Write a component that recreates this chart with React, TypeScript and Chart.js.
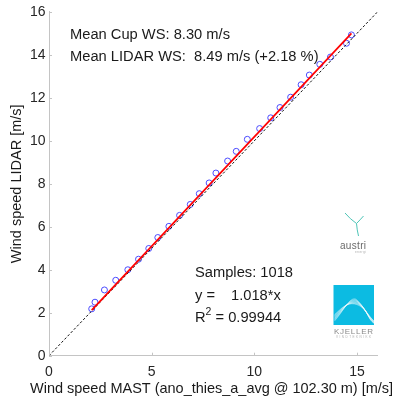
import React, { useEffect, useRef } from 'react';
import { Chart, registerables } from 'chart.js';

Chart.register(...registerables);

const FONT = "'Liberation Sans', Arial, Helvetica, sans-serif";

// Binned averages: mast (cup) wind speed vs LIDAR wind speed [m/s]
const mastWS = [2.08, 2.24, 2.70, 3.25, 3.84, 4.36, 4.86, 5.30, 5.84, 6.36, 6.88, 7.32, 7.80, 8.13, 8.70, 9.12, 9.66, 10.26, 10.80, 11.25, 11.77, 12.28, 12.68, 13.19, 13.71, 14.49, 14.73];
const lidarWS = [2.18, 2.49, 3.06, 3.51, 4.00, 4.49, 4.99, 5.50, 6.02, 6.53, 7.04, 7.54, 8.04, 8.50, 9.06, 9.51, 10.07, 10.57, 11.07, 11.55, 12.03, 12.61, 13.06, 13.56, 13.90, 14.54, 14.93];

// Regression line y = 1.018*x (end points)
const fitX = [2.08, 14.73];
const fitY = [2.12, 15.0];

// 1:1 reference line
const refX = [0, 16];
const refY = [0, 16];

const xTicks = [0, 5, 10, 15];
const yTicks = [0, 2, 4, 6, 8, 10, 12, 14, 16];

const xTitle = 'Wind speed MAST (ano_thies_a_avg @ 102.30 m) [m/s]';
const yTitle = 'Wind speed LIDAR [m/s]';

const meanLines = ['Mean Cup WS: 8.30 m/s', 'Mean LIDAR WS:  8.49 m/s (+2.18 %)'];
const samplesText = 'Samples: 1018';
const fitTextLeft = 'y =';
const fitTextRight = '1.018*x';
const r2Value = '0.99944';

const spacedText = (ctx: CanvasRenderingContext2D, text: string, x0: number, x1: number, y: number) => {
  const chars = text.split('');
  const widths = chars.map((c) => ctx.measureText(c).width);
  const total = widths.reduce((a, b) => a + b, 0);
  const gap = chars.length > 1 ? (x1 - x0 - total) / (chars.length - 1) : 0;
  let x = x0;
  ctx.textAlign = 'left';
  chars.forEach((c, i) => {
    ctx.fillText(c, x, y);
    x += widths[i] + gap;
  });
};

const annotationPlugin = {
  id: 'annotations',
  afterDraw(chart: any) {
    const ctx: CanvasRenderingContext2D = chart.ctx;
    const xs = chart.scales.x;
    const ys = chart.scales.y;
    const area = chart.chartArea;
    ctx.save();

    // inward tick marks
    ctx.strokeStyle = '#c4c4c4';
    ctx.lineWidth = 1;
    xTicks.forEach((v) => {
      const px = Math.round(xs.getPixelForValue(v)) + 0.5;
      ctx.beginPath();
      ctx.moveTo(px, area.bottom);
      ctx.lineTo(px, area.bottom - 3);
      ctx.stroke();
    });
    yTicks.forEach((v) => {
      const py = Math.round(ys.getPixelForValue(v)) + 0.5;
      ctx.beginPath();
      ctx.moveTo(area.left, py);
      ctx.lineTo(area.left + 3, py);
      ctx.stroke();
    });

    // x axis title (spans wider than the plot area)
    ctx.fillStyle = '#1a1a1a';
    ctx.font = `14.5px ${FONT}`;
    ctx.textBaseline = 'alphabetic';
    spacedText(ctx, xTitle, 30, 393, 392.7);

    // statistics text
    const F = `14.7px ${FONT}`;
    ctx.fillStyle = '#1a1a1a';
    ctx.font = F;
    ctx.textAlign = 'left';
    ctx.textBaseline = 'alphabetic';
    ctx.fillText(meanLines[0], 70, 39);
    ctx.fillText(meanLines[1], 70, 61);

    ctx.fillText(samplesText, 195, 277);
    ctx.fillText(fitTextLeft, 195, 299.5);
    ctx.fillText(fitTextRight, 231, 299.5);
    ctx.fillText('R', 195, 321.5);
    const rw = ctx.measureText('R').width;
    ctx.font = `10.5px ${FONT}`;
    ctx.fillText('2', 195 + rw, 315);
    const sw = ctx.measureText('2').width;
    ctx.font = F;
    ctx.fillText(' = ' + r2Value, 195 + rw + sw, 321.5);

    // austri logo
    ctx.strokeStyle = '#4cc4b6';
    ctx.lineWidth = 1;
    const cx = 356.5, cy = 223.5;
    ctx.beginPath();
    ctx.moveTo(cx, cy);
    ctx.quadraticCurveTo(350, 219, 345, 213);
    ctx.moveTo(cx, cy);
    ctx.quadraticCurveTo(360, 220, 363.5, 216);
    ctx.moveTo(cx, cy);
    ctx.quadraticCurveTo(357, 230, 358.5, 236);
    ctx.stroke();
    ctx.fillStyle = '#6a6a6a';
    ctx.font = `10px ${FONT}`;
    spacedText(ctx, 'austri', 340, 366, 249);
    ctx.fillStyle = '#aaaaaa';
    ctx.font = `3px ${FONT}`;
    spacedText(ctx, 'energi', 355, 366, 253);

    // KJELLER logo
    const sx = 333.5, sy = 285, sw2 = 40.5, sh = 40;
    ctx.fillStyle = '#0cbbe2';
    ctx.fillRect(sx, sy, sw2, sh);
    ctx.save();
    ctx.beginPath();
    ctx.rect(sx, sy, sw2, sh);
    ctx.clip();
    ctx.strokeStyle = 'rgba(255,255,255,0.75)';
    ctx.lineWidth = 0.5;
    for (let i = 0; i < 9; i++) {
      ctx.beginPath();
      ctx.moveTo(sx + 1, sy + 36 - i * 0.8);
      ctx.bezierCurveTo(sx + 10, sy + 26 - i * 0.6, sx + 16, sy + 12 + i * 0.4, sx + 22 + i * 0.6, sy + 14 + i * 0.9);
      ctx.bezierCurveTo(sx + 28 + i, sy + 18 + i * 1.2, sx + 34, sy + 30 + i * 0.5, sx + sw2, sy + 36 + i * 0.3);
      ctx.stroke();
    }
    ctx.restore();
    ctx.fillStyle = '#8a8a8a';
    ctx.font = `8px ${FONT}`;
    spacedText(ctx, 'KJELLER', 334, 373, 333.5);
    ctx.fillStyle = '#b0b0b0';
    ctx.font = `3px ${FONT}`;
    spacedText(ctx, 'VINDTEKNIKK', 336, 371, 338);

    ctx.restore();
  },
};

export default function App() {
  const canvasRef = useRef<HTMLCanvasElement | null>(null);

  useEffect(() => {
    const canvas = canvasRef.current;
    if (!canvas) return;
    const chart = new Chart(canvas, {
      type: 'scatter',
      data: {
        datasets: [
          {
            label: 'Linear fit',
            data: fitX.map((x, i) => ({ x, y: fitY[i] })),
            showLine: true,
            borderColor: '#ff0000',
            backgroundColor: '#ff0000',
            borderWidth: 1.7,
            pointRadius: 0,
            order: 0,
          },
          {
            label: '1:1',
            data: refX.map((x, i) => ({ x, y: refY[i] })),
            showLine: true,
            borderColor: '#111111',
            borderWidth: 1,
            borderDash: [2.5, 2],
            pointRadius: 0,
            order: 1,
          },
          {
            label: 'Bins',
            data: mastWS.map((x, i) => ({ x, y: lidarWS[i] })),
            showLine: false,
            pointStyle: 'circle',
            pointRadius: 3,
            pointBorderWidth: 1,
            pointBorderColor: '#4b4bff',
            pointBackgroundColor: 'rgba(0,0,0,0)',
            order: 2,
          },
        ],
      },
      options: {
        animation: false,
        responsive: true,
        maintainAspectRatio: false,
        layout: { padding: { top: 11.5, right: 17.5, left: 0, bottom: 0 } },
        plugins: {
          legend: { display: false },
          tooltip: { enabled: false },
        },
        scales: {
          x: {
            type: 'linear',
            min: 0,
            max: 16,
            grid: { display: false, drawTicks: false },
            border: { color: '#c4c4c4', width: 1 },
            ticks: { padding: 8, color: '#262626', font: { size: 14, family: FONT } },
            afterBuildTicks: (s: any) => {
              s.ticks = xTicks.map((v) => ({ value: v }));
            },
            afterFit: (s: any) => {
              s.height = 40.3;
            },
            title: { display: false },
          },
          y: {
            type: 'linear',
            min: 0,
            max: 16,
            grid: { display: false, drawTicks: false },
            border: { color: '#c4c4c4', width: 1 },
            ticks: { padding: 3.5, color: '#262626', font: { size: 14, family: FONT } },
            afterBuildTicks: (s: any) => {
              s.ticks = yTicks.map((v) => ({ value: v }));
            },
            afterFit: (s: any) => {
              s.width = 49;
            },
            title: {
              display: true,
              text: yTitle,
              color: '#1a1a1a',
              font: { size: 14.5, family: FONT },
              padding: { top: 8.5, bottom: 0 },
            },
          },
        },
      },
      plugins: [annotationPlugin],
    });
    return () => chart.destroy();
  }, []);

  return (
    <div style={{ position: 'fixed', left: 0, top: 0, width: 395, height: 396, background: '#ffffff' }}>
      <canvas ref={canvasRef} />
    </div>
  );
}
